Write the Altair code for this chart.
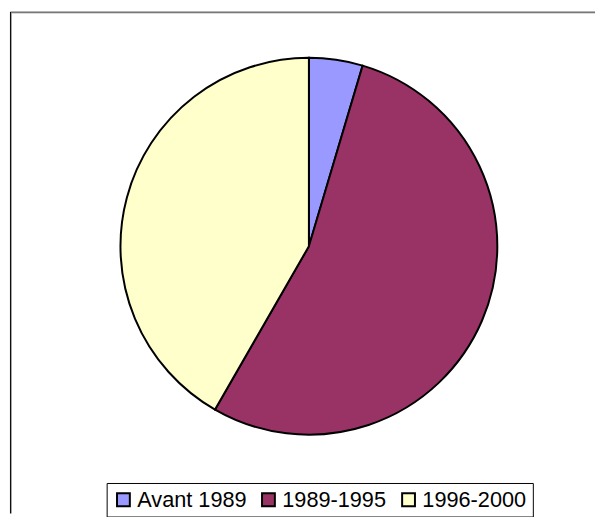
import altair as alt
import pandas as pd

categories = ["Avant 1989", "1989-1995", "1996-2000"]
values = [4.6, 53.7, 41.7]
colors = ["#9999FF", "#993366", "#FFFFCC"]

df = pd.DataFrame({"periode": categories, "valeur": values, "ordre": [0, 1, 2]})

W, H = 595, 509

base = alt.Chart(pd.DataFrame({"a": [0]}))

frame_shadow = base.mark_rect(
    fill="white", stroke="#a0a0a0", strokeWidth=1, clip=True
).encode(
    x=alt.value(3.5), x2=alt.value(W + 40), y=alt.value(1.5), y2=alt.value(H + 40)
)
frame = base.mark_rect(
    fill=None, stroke="black", strokeWidth=1, clip=True
).encode(
    x=alt.value(2.5), x2=alt.value(W + 40), y=alt.value(0.5), y2=alt.value(H + 40)
)

pie = alt.Chart(df).mark_arc(
    radius=191, stroke="black", strokeWidth=2
).encode(
    theta=alt.Theta("valeur:Q", stack=True),
    order=alt.Order("ordre:Q"),
    color=alt.Color(
        "periode:N",
        scale=alt.Scale(domain=categories, range=colors),
        sort=categories,
        legend=alt.Legend(
            title=None,
            orient="none",
            direction="horizontal",
            legendX=100,
            legendY=478,
            padding=6,
            strokeColor="black",
            symbolType="square",
            symbolSize=169,
            symbolStrokeColor="black",
            symbolStrokeWidth=2,
            labelFontSize=22,
            labelFont="Liberation Sans",
            labelColor="black",
            labelOffset=3,
            columnPadding=11,
        ),
    ),
    x=alt.value(305),
    y=alt.value(238),
)

chart = alt.layer(frame_shadow, frame, pie).properties(
    width=W, height=H, padding=0,
    autosize=alt.AutoSizeParams(type="none"),
).configure_view(stroke=None).configure_legend(
    symbolOpacity=1, fillColor="white", strokeWidth=1
)

chart.save("out.html", embed_options={"renderer": "svg", "actions": False})
